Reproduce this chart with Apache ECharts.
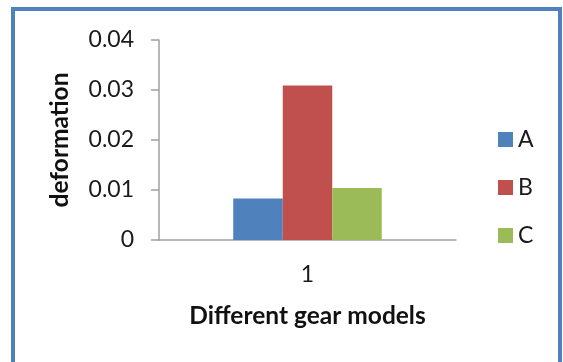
<!DOCTYPE html>
<html>
<head>
<meta charset="utf-8">
<script src="https://cdn.jsdelivr.net/npm/echarts@6/dist/echarts.min.js"></script>
<style>
  html, body { margin: 0; padding: 0; background: #fff; }
  #chart { width: 563px; height: 362px; }
</style>
</head>
<body>
<div id="chart"></div>
<script>
// chart values
const categories = ['1'];
const seriesNames = ['A', 'B', 'C'];
const seriesValues = [
  [0.0083],
  [0.0309],
  [0.0104]
];
const seriesColors = ['#4F81BD', '#C0504D', '#9BBB59'];
const yTicks = { min: 0, max: 0.04, interval: 0.01 };

const font = 'Lato, "Open Sans", sans-serif';
const axisGray = '#a0a0a0';

const chart = echarts.init(document.getElementById('chart'));

chart.setOption({
  backgroundColor: '#fff',
  animation: false,
  graphic: [
    {
      type: 'rect',
      shape: { x: 13, y: 9, width: 547, height: 400 },
      style: { fill: 'none', stroke: '#4F81BD', lineWidth: 4 },
      z: 100
    }
  ],
  legend: {
    orient: 'vertical',
    left: 498,
    top: 128,
    padding: 0,
    itemWidth: 15,
    itemHeight: 15,
    itemGap: 25,
    icon: 'rect',
    textStyle: { fontFamily: font, fontSize: 23, color: '#1a1a1a' },
    data: seriesNames
  },
  grid: {
    left: 159,
    right: 107,
    top: 40,
    bottom: 122,
    containLabel: false
  },
  xAxis: {
    type: 'category',
    data: categories,
    name: 'Different gear models',
    nameLocation: 'middle',
    nameGap: 64,
    nameTextStyle: { fontFamily: font, fontSize: 24.5, fontWeight: 'bold', color: '#111' },
    axisLine: { lineStyle: { color: axisGray, width: 1.5 } },
    axisTick: { show: false },
    axisLabel: { margin: 23, fontFamily: font, fontSize: 23, color: '#1a1a1a' }
  },
  yAxis: {
    type: 'value',
    min: yTicks.min,
    max: yTicks.max,
    interval: yTicks.interval,
    name: 'deformation',
    nameLocation: 'middle',
    nameGap: 86,
    nameTextStyle: { fontFamily: font, fontSize: 24.5, fontWeight: 'bold', color: '#111' },
    axisLine: { show: true, lineStyle: { color: axisGray, width: 1.5 } },
    axisTick: { show: true, length: 8, lineStyle: { color: axisGray, width: 1.5 } },
    splitLine: { show: false },
    axisLabel: { margin: 25, fontFamily: font, fontSize: 23, color: '#1a1a1a' }
  },
  series: seriesNames.map((name, i) => ({
    name: name,
    type: 'bar',
    data: seriesValues[i],
    barGap: '0%',
    barCategoryGap: '50%',
    itemStyle: { color: seriesColors[i] }
  }))
});
</script>
</body>
</html>
